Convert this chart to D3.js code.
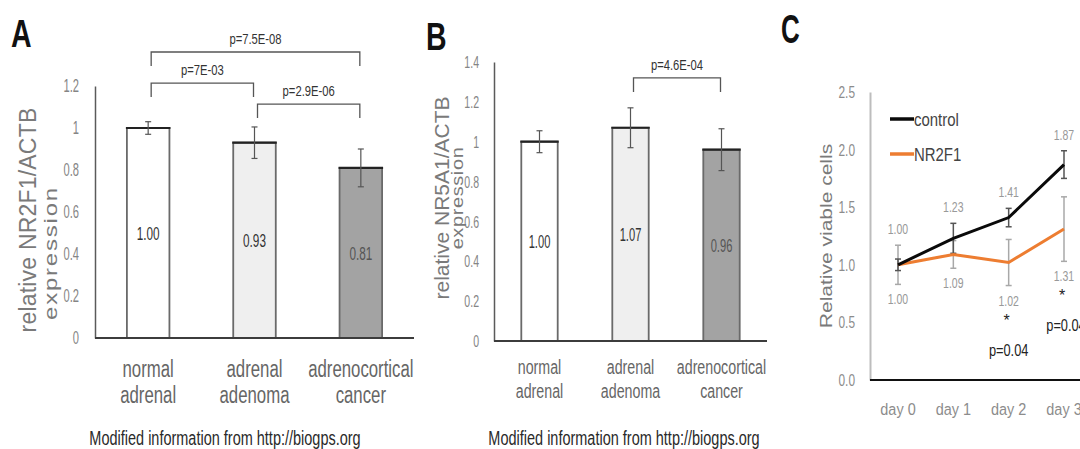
<!DOCTYPE html>
<html>
<head>
<meta charset="utf-8">
<script src="https://cdn.jsdelivr.net/npm/d3@7"></script>
<style>
  body { margin: 0; background: #fff; }
  svg { display: block; }
  text { font-family: "Liberation Sans", Arial, sans-serif; }
</style>
</head>
<body>
<div class="container"></div>
<script>

// panel A / B data
const categories = [['normal', 'adrenal'], ['adrenal', 'adenoma'], ['adrenocortical', 'cancer']];
const nr2f1Values = [1.00, 0.93, 0.81];
const nr2f1Errors = [0.03, 0.075, 0.09];
const nr5a1Values = [1.00, 1.07, 0.96];
const nr5a1Errors = [0.055, 0.10, 0.105];
const ticksA = [0, 0.2, 0.4, 0.6, 0.8, 1, 1.2];
const ticksB = [0, 0.2, 0.4, 0.6, 0.8, 1, 1.2, 1.4];
// brackets: from bar, to bar, level (axis units), label
const bracketsA = [[0, 2, 1.362, 'p=7.5E-08'], [0, 1, 1.214, 'p=7E-03'], [1, 2, 1.114, 'p=2.9E-06']];
const bracketsB = [[1, 2, 1.32, 'p=4.6E-04']];

// panel C data
const days = ['day 0', 'day 1', 'day 2', 'day 3'];
const controlValues = [1.00, 1.23, 1.41, 1.87];
const controlErrors = [0.05, 0.13, 0.08, 0.12];
const nr2f1CellValues = [1.00, 1.09, 1.02, 1.31];
const nr2f1CellErrors = [0.17, 0.12, 0.20, 0.28];
const ticksC = [0, 0.5, 1.0, 1.5, 2.0, 2.5];
const sigDays = ['day 2', 'day 3'];

const barFills = ['#ffffff', '#efefef', '#a3a3a3'];

const width = 1080;
const height = 449;

const svg = d3.select('.container')
  .append('svg')
  .attr('width', width)
  .attr('height', height);

svg.append('rect').attr('width', width).attr('height', height).attr('fill', '#fff');

// the source picture is squeezed sideways, so text is drawn narrow
const hText = (g, x, y, str, size, sx, fill, anchor) => g.append('text')
  .attr('transform', `translate(${x},${y}) scale(${sx},1)`)
  .attr('text-anchor', anchor || 'middle')
  .attr('font-size', size)
  .attr('fill', fill)
  .text(str);

const vText = (g, x, y, str, size, sx, spacing, fill) => g.append('text')
  .attr('transform', `translate(${x},${y}) scale(${sx},1) rotate(-90)`)
  .attr('text-anchor', 'middle')
  .attr('font-size', size)
  .attr('letter-spacing', spacing)
  .attr('fill', fill)
  .text(str);

const drawBars = (opt) => {
  const g = svg.append('g');
  const x = d3.scaleBand()
    .domain(d3.range(opt.values.length))
    .range([opt.left, opt.right])
    .paddingInner(opt.pad)
    .paddingOuter(opt.pad / 2);
  const y = d3.scaleLinear()
    .domain([0, opt.yMax])
    .range([opt.bottom, opt.top]);
  const cx = i => x(i) + x.bandwidth() / 2;

  // y axis
  const yAxis = g.append('g')
    .attr('transform', `translate(${opt.left},0)`)
    .call(d3.axisLeft(y).tickValues(opt.ticks).tickSize(0).tickFormat(''));
  yAxis.select('.domain').attr('stroke', '#5a5a5a').attr('stroke-width', 1.5);
  opt.ticks.forEach(t => {
    hText(g, opt.left - opt.tickPad, y(t) + opt.tickFont * 0.36, d3.format('~g')(t), opt.tickFont, 0.62, '#858585', 'end');
  });

  g.selectAll('rect.bar')
    .data(opt.values)
    .enter()
    .append('rect')
    .attr('class', 'bar')
    .attr('x', (d, i) => x(i))
    .attr('y', d => y(d))
    .attr('width', x.bandwidth())
    .attr('height', d => y(0) - y(d))
    .attr('fill', (d, i) => barFills[i])
    .attr('stroke', '#6a6a6a')
    .attr('stroke-width', 1.8);

  // darker top edge
  g.selectAll('line.top')
    .data(opt.values)
    .enter()
    .append('line')
    .attr('x1', (d, i) => x(i) - 1)
    .attr('x2', (d, i) => x(i) + x.bandwidth() + 1)
    .attr('y1', d => y(d))
    .attr('y2', d => y(d))
    .attr('stroke', '#222')
    .attr('stroke-width', 2.2);

  // x axis
  g.append('line')
    .attr('x1', opt.left).attr('x2', opt.right)
    .attr('y1', y(0)).attr('y2', y(0))
    .attr('stroke', '#3c3c3c').attr('stroke-width', 2);

  // error bars
  opt.values.forEach((v, i) => {
    const e = opt.errors[i];
    g.append('line').attr('x1', cx(i)).attr('x2', cx(i)).attr('y1', y(v - e)).attr('y2', y(v + e))
      .attr('stroke', '#555').attr('stroke-width', 1.2);
    [v - e, v + e].forEach(t => {
      g.append('line').attr('x1', cx(i) - 3).attr('x2', cx(i) + 3).attr('y1', y(t)).attr('y2', y(t))
        .attr('stroke', '#555').attr('stroke-width', 1.2);
    });
  });

  // value labels
  opt.values.forEach((v, i) => {
    hText(g, cx(i), y(v / 2) + opt.valFont * 0.36, v.toFixed(2), opt.valFont, 0.62, i === 2 ? '#555' : '#333');
  });

  // category labels
  categories.forEach((c, i) => {
    c.forEach((line, j) => {
      hText(g, cx(i), opt.catY + j * opt.catGap, line, opt.catFont, 0.73, '#666');
    });
  });

  // significance brackets
  opt.brackets.forEach(b => {
    const x1 = cx(b[0]) + 3;
    const x2 = cx(b[1]) - 1;
    const yl = y(b[2]);
    g.append('path')
      .attr('d', `M${x1},${yl + 14}V${yl}H${x2}V${yl + 14}`)
      .attr('fill', 'none')
      .attr('stroke', '#555')
      .attr('stroke-width', 1.3);
    hText(g, (x1 + x2) / 2, yl - 8, b[3], 15, 0.75, '#333');
  });

  // y title
  vText(g, opt.titleX, opt.titleY, opt.title, opt.titleFont, 1, opt.titleSpacing, '#7a7a7a');
  vText(g, opt.subX, opt.subY, 'expression', opt.subFont, 0.8, opt.subSpacing, '#7a7a7a');

  // footer
  hText(g, opt.footX, 445, 'Modified information from http://biogps.org', 21, 0.69, '#2a2a2a');

  // panel letter
  hText(g, opt.letterX, opt.letterY, opt.letter, 38, 0.75, '#111', 'start')
    .attr('font-weight', 'bold');
};

drawBars({
  values: nr2f1Values, errors: nr2f1Errors, ticks: ticksA, brackets: bracketsA,
  left: 95, right: 414, top: 86, bottom: 338, yMax: 1.2, pad: 0.6,
  tickFont: 18, tickPad: 16, valFont: 19, catFont: 23, catY: 377, catGap: 26,
  title: 'relative NR2F1/ACTB', titleX: 36, titleY: 220, titleFont: 23, titleSpacing: 0.2,
  subX: 57, subY: 253, subFont: 24, subSpacing: 1.8,
  footX: 225, letter: 'A', letterX: 11, letterY: 47
});

drawBars({
  values: nr5a1Values, errors: nr5a1Errors, ticks: ticksB, brackets: bracketsB,
  left: 494, right: 767, top: 62, bottom: 341, yMax: 1.4, pad: 0.6,
  tickFont: 17, tickPad: 15, valFont: 18, catFont: 19.5, catY: 374, catGap: 24,
  title: 'relative NR5A1/ACTB', titleX: 449, titleY: 198, titleFont: 21, titleSpacing: 0,
  subX: 463, subY: 198, subFont: 20, subSpacing: 0.6,
  footX: 624, letter: 'B', letterX: 426, letterY: 50
});

// panel C
const gC = svg.append('g');
const xC = d3.scalePoint().domain(days).range([898, 1064]);
const yC = d3.scaleLinear().domain([0, 2.5]).range([380, 92]);

const yAxisC = gC.append('g')
  .attr('transform', 'translate(870,0)')
  .call(d3.axisLeft(yC).tickValues(ticksC).tickSize(0).tickFormat(''));
yAxisC.select('.domain').attr('stroke', '#bdbdbd').attr('stroke-width', 2);
ticksC.forEach(t => {
  hText(gC, 855, yC(t) + 6, d3.format('.1f')(t), 17, 0.7, '#8c8c8c', 'end');
});

gC.append('line')
  .attr('x1', 870).attr('x2', 1080)
  .attr('y1', yC(0)).attr('y2', yC(0))
  .attr('stroke', '#111').attr('stroke-width', 2);

days.forEach(d => {
  hText(gC, xC(d), 415, d, 17, 0.85, '#8c8c8c');
});

const errBar = (vals, errs, color) => {
  vals.forEach((v, i) => {
    const cx = xC(days[i]);
    gC.append('line').attr('x1', cx).attr('x2', cx).attr('y1', yC(v - errs[i])).attr('y2', yC(v + errs[i]))
      .attr('stroke', color).attr('stroke-width', 1.5);
    [v - errs[i], v + errs[i]].forEach(t => {
      gC.append('line').attr('x1', cx - 3).attr('x2', cx + 3).attr('y1', yC(t)).attr('y2', yC(t))
        .attr('stroke', color).attr('stroke-width', 1.5);
    });
  });
};
errBar(nr2f1CellValues, nr2f1CellErrors, '#a8a8a8');
errBar(controlValues, controlErrors, '#555');

const lineC = d3.line().x((d, i) => xC(days[i])).y(d => yC(d));
gC.append('path').datum(nr2f1CellValues).attr('d', lineC)
  .attr('fill', 'none').attr('stroke', '#ed7d31').attr('stroke-width', 3);
gC.append('path').datum(controlValues).attr('d', lineC)
  .attr('fill', 'none').attr('stroke', '#0a0a0a').attr('stroke-width', 3);

// data labels
const topOf = i => Math.max(controlValues[i] + controlErrors[i], nr2f1CellValues[i] + nr2f1CellErrors[i]);
const botOf = i => nr2f1CellValues[i] - nr2f1CellErrors[i];
controlValues.forEach((v, i) => {
  hText(gC, xC(days[i]), yC(topOf(i)) - 11, v.toFixed(2), 15, 0.7, '#999');
});
nr2f1CellValues.forEach((v, i) => {
  hText(gC, xC(days[i]), yC(botOf(i)) + 20, v.toFixed(2), 15, 0.7, '#999');
});

sigDays.forEach(d => {
  const i = days.indexOf(d);
  const base = yC(botOf(i)) + 15;
  hText(gC, xC(d) - 2, base + 25, '*', 16, 1, '#222');
  hText(gC, xC(d) + (i === 3 ? 2 : 0), base + 55, 'p=0.04', 16, 0.8, '#222');
});

// legend
const legend = [['control', '#0a0a0a'], ['NR2F1', '#ed7d31']];
legend.forEach((l, i) => {
  const ly = 119 + i * 35;
  gC.append('line').attr('x1', 890).attr('x2', 914).attr('y1', ly).attr('y2', ly)
    .attr('stroke', l[1]).attr('stroke-width', 3.5);
  hText(gC, 914, ly + 7, l[0], 18, 0.83, '#444', 'start');
});

vText(gC, 832, 236, 'Relative viable cells', 21, 0.75, 0, '#7a7a7a');

hText(gC, 781, 43, 'C', 40, 0.65, '#111', 'start').attr('font-weight', 'bold');

</script>
</body>
</html>
